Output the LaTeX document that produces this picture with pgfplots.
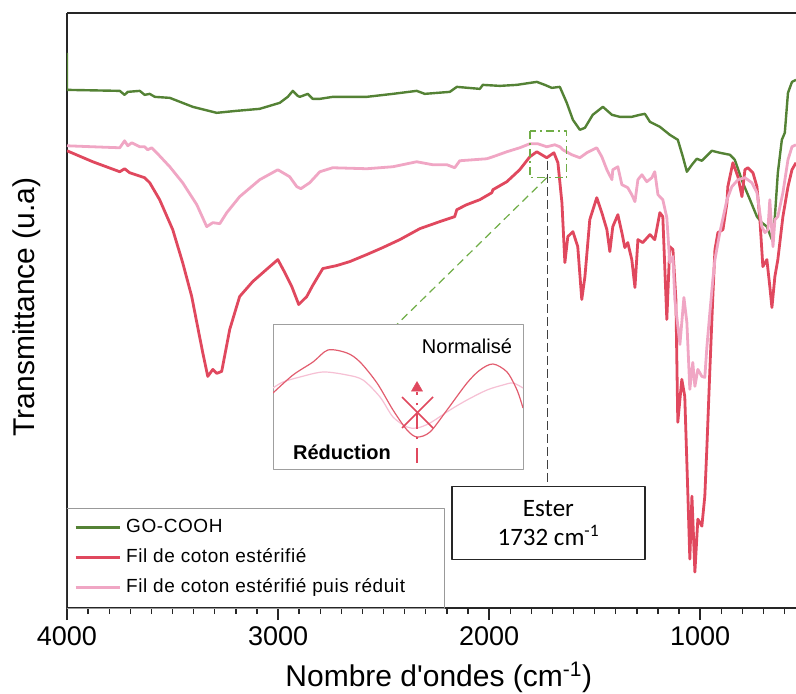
\documentclass[border=0pt]{standalone}
\usepackage{fontspec}
\setmainfont{Liberation Sans}
\newfontfamily\calib{Carlito}
\newfontfamily\legfont[LetterSpace=3]{Liberation Sans}
\usepackage{pgfplots}
\usepackage{pgfplotstable}
\pgfplotsset{compat=1.18}

\definecolor{gcol}{RGB}{84,130,53}
\definecolor{rcol}{RGB}{224,72,94}
\definecolor{pcol}{RGB}{240,166,196}
\definecolor{lgreen}{RGB}{112,173,71}
\definecolor{rthin}{RGB}{226,92,110}
\definecolor{pthin}{RGB}{246,192,212}

% GO-COOH
\pgfplotstableread{
w y
4000 555
4000 518
3750 517
3727 513
3712 516
3655 517
3632 513
3608 514
3584 511
3513 510
3404 501
3291 495
3196 497
3087 499
2992 505
2954 511
2930 517
2907 512
2897 511
2859 514
2836 509
2802 509
2741 511
2580 511
2456 514
2343 517
2305 514
2186 516
2153 521
2044 519
2030 523
1949 522
1869 523
1774 526
1736 523
1703 520
1665 521
1632 505
1603 488
1570 478
1546 480
1509 493
1461 501
1418 493
1381 491
1324 491
1286 493
1262 494
1238 486
1191 481
1144 473
1106 468
1082 451
1063 436
1039 443
1016 449
992 447
945 457
907 455
859 453
836 448
798 425
764 408
731 391
708 385
684 381
660 368
646 391
632 435
613 468
599 475
584 515
565 526
546 528
}\gocooh

% Fil de coton esterifie
\pgfplotstableread{
w y
4000 457
3878 446
3750 436
3727 439
3703 435
3632 430
3608 425
3561 408
3499 378
3452 345
3409 311
3385 285
3357 255
3333 231
3309 238
3291 234
3267 236
3229 278
3182 311
3120 326
3039 341
3001 348
2968 335
2935 321
2902 303
2864 311
2836 322
2788 339
2722 342
2660 346
2580 353
2504 360
2423 368
2328 379
2234 386
2163 391
2153 398
2106 403
2044 408
1987 415
1982 418
1916 426
1855 438
1807 451
1774 456
1727 450
1693 455
1674 445
1655 405
1641 345
1627 371
1603 376
1580 361
1561 308
1546 331
1523 388
1490 410
1466 395
1442 378
1428 356
1414 381
1390 393
1371 375
1357 360
1343 365
1324 348
1309 320
1295 368
1272 365
1238 373
1215 368
1191 395
1177 391
1158 288
1144 361
1129 358
1115 308
1106 185
1087 228
1073 211
1058 111
1049 48
1039 111
1025 35
1011 88
992 81
978 111
968 161
954 238
940 311
930 358
916 375
892 378
873 405
869 421
845 445
821 431
802 411
788 438
774 440
750 435
731 421
717 388
703 341
684 348
670 321
660 300
646 331
632 348
608 391
584 421
565 438
546 445
}\ester

% Fil de coton esterifie puis reduit
\pgfplotstableread{
w y
4000 462
3878 461
3750 460
3727 467
3712 462
3693 465
3655 461
3632 461
3618 458
3599 460
3575 455
3513 441
3452 425
3385 403
3338 381
3309 385
3276 384
3243 395
3182 411
3087 428
3001 438
2945 431
2911 421
2892 419
2864 423
2850 425
2802 436
2741 440
2580 439
2456 441
2343 446
2267 443
2200 443
2163 440
2139 447
2011 449
1982 451
1916 456
1855 460
1807 464
1769 464
1727 461
1689 463
1665 461
1651 458
1608 453
1570 450
1537 455
1490 460
1466 451
1442 438
1418 428
1414 438
1390 441
1371 423
1343 420
1324 413
1309 406
1295 428
1276 433
1253 426
1229 430
1215 436
1200 413
1177 408
1158 390
1144 345
1129 351
1120 308
1096 263
1077 310
1063 285
1049 218
1035 245
1025 221
1011 238
992 231
978 230
968 261
954 295
940 328
930 348
907 375
873 408
850 421
821 428
788 430
755 425
731 415
708 381
693 375
679 378
670 408
660 375
655 361
646 388
632 391
608 415
584 448
565 461
546 463
}\reduit

% zoom (normalised) around the ester band
\pgfplotstableread{
x y
0 77
20 95
40 108
55 120
74 117
87 108
104 87
120 60
134 40
144 33
157 38
174 60
194 87
207 100
220 106
234 98
244 80
250 62
}\zoomester
\pgfplotstableread{
x y
0 82
10 88
27 93
50 98
74 95
90 90
107 73
120 53
134 43
144 42
157 47
177 60
194 70
214 80
230 85
240 87
250 82
}\zoomreduit

\begin{document}
\begin{tikzpicture}
\useasboundingbox (-67pt,-86pt) rectangle (729pt,608pt);

\begin{axis}[
    at={(0pt,0pt)}, anchor=south west,
    width=729pt, height=595pt, scale only axis,
    x dir=reverse,
    xmin=546, xmax=4000,
    ymin=-1, ymax=595,
    axis x line=box, axis y line=left,
    axis line style={-, line width=1.6pt, black!85},
    xtick={1000,2000,3000,4000},
    minor xtick={600,700,...,3900},
    xtick pos=left,
    ytick=\empty,
    tick align=outside,
    major tick length=12pt, minor tick length=6pt,
    tick style={black!85, line width=1.4pt},
    /pgf/number format/1000 sep={},
    /pgf/number format/assume math mode=true,
    xticklabel style={font=\fontsize{27}{30}\selectfont, yshift=-3pt},
    xlabel={Nombre d\textquotesingle ondes (cm\textsuperscript{-1})},
    xlabel style={font=\fontsize{30}{33}\selectfont, at={(axis description cs:0.51,0)}, anchor=base, yshift=-78pt},
    ylabel={Transmittance (u.a)},
    ylabel style={font=\fontsize{30}{33}\selectfont, at={(axis description cs:-0.055,0.506)}, anchor=center},
    legend style={draw=none, fill=none, inner sep=0pt,
        at={(axis description cs:0.0096,0.153)}, anchor=north west,
        font=\legfont\fontsize{19}{21}\selectfont,
        nodes={inner sep=1pt, text height=14pt, text depth=4pt},
        row sep=10pt, column sep=4pt},
    legend cell align=left,
    legend image code/.code={\draw[#1, line width=3pt] (0pt,0pt) -- (44pt,0pt);},
    line join=round,
]
\draw[gray!80, line width=1pt] (axis description cs:0,0) rectangle (axis description cs:0.5185,0.168);

\addplot[gcol, line width=2.4pt] table {\gocooh};
\addplot[rcol, line width=2.8pt] table {\ester};
\addplot[pcol, line width=2.8pt] table {\reduit};

\draw[black!75, line width=1.4pt, dash pattern=on 9pt off 4pt] (axis cs:1722,447) -- (axis cs:1722,121);
\draw[lgreen, line width=1.4pt, dash pattern=on 8pt off 4pt on 2pt off 4pt] (axis cs:1807,477) rectangle (axis cs:1632,430);
\draw[lgreen, line width=1.2pt, dash pattern=on 8pt off 5pt] (axis cs:1727,430) -- (axis cs:2437,283);
\node[draw=black!85, line width=1.2pt, fill=white, minimum width=193pt, minimum height=73pt,
      align=center, font=\calib\fontsize{25}{29}\selectfont]
      at (axis cs:1719,84.5) {Ester\\1732 cm\textsuperscript{-1}};

\legend{GO-COOH, Fil de coton estérifié, Fil de coton estérifié puis réduit}
\end{axis}

\begin{axis}[
    at={(206pt,138pt)}, anchor=south west,
    width=250pt, height=145pt, scale only axis,
    xmin=0, xmax=250, ymin=0, ymax=145,
    xtick=\empty, ytick=\empty,
    axis line style={gray!75, line width=1pt},
    axis background/.style={fill=white},
    line join=round,
]
\addplot[pthin, line width=1.2pt, smooth] table {\zoomreduit};
\addplot[rthin, line width=1.2pt, smooth] table {\zoomester};
\addplot[rcol, line width=2pt, dash pattern=on 15pt off 8.5pt on 2pt off 8.5pt] coordinates {(144,7) (144,78)};
\addplot[rcol, only marks, mark=triangle*, mark size=6.5pt] coordinates {(144,82)};
\addplot[rcol, line width=1.6pt] coordinates {(129,42) (160,73)};
\addplot[rcol, line width=1.6pt] coordinates {(129,73) (160,42)};
\node[font=\fontsize{20}{22}\selectfont] at (axis cs:194,124) {Normalisé};
\node[font=\bfseries\fontsize{20}{22}\selectfont] at (axis cs:69,18) {Réduction};
\end{axis}
\end{tikzpicture}
\end{document}
